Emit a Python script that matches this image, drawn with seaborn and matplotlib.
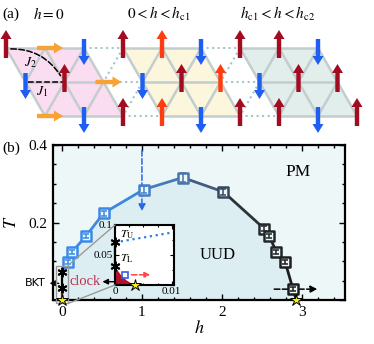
import numpy as np
import pandas as pd
import matplotlib
matplotlib.use("Agg")
import matplotlib.pyplot as plt
import seaborn as sns
from matplotlib.collections import LineCollection
from matplotlib.colors import LinearSegmentedColormap, Normalize
from matplotlib.patches import Polygon, Rectangle, FancyArrowPatch, ConnectionPatch
from matplotlib.ticker import MultipleLocator

# ---------------- data: panel (a) spin configurations ----------------
block_titles = [r"$h=0$", r"$0<h<h_{\rm c1}$", r"$h_{\rm c1}<h<h_{\rm c2}$"]
# u = up, U = canted up (bright), d = down, r = in-plane (right)
spins = [
    ["u r d", "d u r", "r d u"],
    ["u U d", "d u U", "U d u"],
    ["u u d", "d u u", "u d u"],
]

# ---------------- data: panel (b) phase diagram ----------------
h_pts = [0.08, 0.13, 0.30, 0.52, 1.02, 1.51, 2.02, 2.53, 2.59, 2.68, 2.79, 2.89]
T_pts = [0.099, 0.125, 0.165, 0.224, 0.285, 0.316, 0.279, 0.184, 0.166, 0.125, 0.099, 0.028]
T_err = [0.005, 0.005, 0.005, 0.006, 0.008, 0.012, 0.008, 0.006, 0.005, 0.005, 0.005, 0.005]
T_U = 0.071
T_L = 0.031
h_c1 = 0.0035
h_c2 = 2.93

# inset: clock phase boundary and BKT upper line
h_clock = [0.0, 0.001, 0.002, 0.003, 0.0035]
T_clock = [0.031, 0.017, 0.008, 0.002, 0.0]
h_tu = [0.0, 0.0104]
T_tu = [0.071, 0.088]
h_probe, T_probe = 0.0018, 0.017

# ---------------- style ----------------
sns.set_style("ticks")
plt.rcParams["font.family"] = ["Liberation Serif", "DejaVu Serif"]
plt.rcParams["mathtext.fontset"] = "stix"
for k in ["text.color", "axes.labelcolor", "xtick.color", "ytick.color", "axes.edgecolor"]:
    plt.rcParams[k] = "black"

spin_col = {"u": "#a30c20", "U": "#ff3c10", "d": "#1f5ef2", "r": "#f7a232"}
block_fill = ["#fbddf2", "#fbf6dc", "#e1eeeb"]
lat_col = "#c2cdcd"

fig = plt.figure(figsize=(3.74, 3.44), dpi=100)

# ================= panel (a) =================
axa = fig.add_axes([0, 1 - 140 / 344, 1, 140 / 344])
axa.set_xlim(0, 374)
axa.set_ylim(140, 0)
axa.axis("off")

a, dy_row, x0, y0 = 39.0, 34.0, 6.0, 48.0


def site(g, r):
    return x0 + a * g + a / 2 * r, y0 + dy_row * r


for b in range(3):
    corners = [site(3 * b, 0), site(3 * b + 2, 0), site(3 * b + 2, 2), site(3 * b, 2)]
    axa.add_patch(Polygon(corners, closed=True, fc=block_fill[b], ec="none", zorder=0))

for r in range(3):
    for g in range(9):
        x, y = site(g, r)
        nbrs = []
        if g < 8:
            nbrs.append((g + 1, r))
        if r < 2:
            nbrs.append((g, r + 1))
            if g > 0:
                nbrs.append((g - 1, r + 1))
        for g2, r2 in nbrs:
            x2, y2 = site(g2, r2)
            same = (g // 3) == (g2 // 3)
            axa.plot([x, x2], [y, y2], color=lat_col if same else "#a9c4c8",
                     lw=1.8 if same else 1.5, ls="-" if same else ":", zorder=1,
                     solid_capstyle="round")

# exchange couplings
axa.plot([28, 63], [82, 82], ls="--", color="k", lw=1.1, zorder=2)
axa.add_patch(FancyArrowPatch((8, 49), (62, 78), arrowstyle="-", ls="--", lw=1.1,
                              color="k", connectionstyle="arc3,rad=-0.3", zorder=2))
axa.text(30, 63, r"$J_2$", fontsize=10, ha="center", va="center", zorder=3)
axa.text(42, 92, r"$J_1$", fontsize=10, ha="center", va="center", zorder=3)

for b in range(3):
    for r in range(3):
        for c, s in enumerate(spins[b][r].split()):
            x, y = site(3 * b + c, r)
            if s in "uU":
                xs, ys, dx, dy = x, y + 10, 0, -28
            elif s == "d":
                xs, ys, dx, dy = x, y - 9, 0, 26
            else:
                xs, ys, dx, dy = x - 8, y, 26, 0
            axa.arrow(xs, ys, dx, dy, width=4.4, head_width=11, head_length=9,
                      length_includes_head=True, color=spin_col[s], lw=0, zorder=4)

axa.text(2, 14, "(a)", fontsize=11, ha="left", va="center")
for x, t in zip([33, 127, 240], block_titles):
    axa.text(x, 14, t, fontsize=11, ha="left", va="center")

# ================= panel (b) =================
ax = fig.add_axes([53 / 374, 44 / 344, 292 / 374, 155 / 344])
ax.set_facecolor("#eef7f7")
ax.set_xlim(-0.1125, 3.54)
ax.set_ylim(0, 0.4)

cmap = LinearSegmentedColormap.from_list("bk", ["#3a8ceb", "#3f86de", "#4a74a8", "#2c343c", "#181818"])
norm = Normalize(0, 3)

h_line = [0.0] + h_pts + [h_c2]
T_line = [T_U] + T_pts + [0.0]
ax.fill_between(h_line, T_line, 0, color="#dceef1", lw=0, zorder=0)

segs = [[(h_line[i], T_line[i]), (h_line[i + 1], T_line[i + 1])] for i in range(len(h_line) - 1)]
seg_c = [cmap(norm(0.5 * (h_line[i] + h_line[i + 1]))) for i in range(len(h_line) - 1)]
ax.add_collection(LineCollection(segs, colors=seg_c, linewidths=2.0, zorder=2))

for h, T, e in zip(h_pts, T_pts, T_err):
    ax.errorbar(h, T, yerr=e, color=cmap(norm(h)), capsize=2, lw=1.1, capthick=1.1, zorder=5)

df = pd.DataFrame({"h": h_pts, "T": T_pts})
sns.scatterplot(data=df, x="h", y="T", hue="h", palette=cmap, hue_norm=(0, 3),
                marker="s", s=52, legend=False, ax=ax, zorder=4)
pts = ax.collections[-1]
pts.set_edgecolors(pts.get_facecolors())
pts.set_facecolors("#eef7f7")
pts.set_linewidths(1.8)

# h = 0 line: clock (red) and BKT (black)
ax.plot([0, 0], [0, T_L], color="#c0102a", lw=1.6, zorder=3)
ax.plot([0, 0], [T_L, T_U], color="k", lw=1.6, zorder=3)
ax.plot([0, 0], [T_U, T_L], ls="none", marker=(6, 2, 0), ms=7, mew=1.4, color="k", zorder=6)
ax.plot([0, h_c2], [0, 0], ls="none", marker="*", ms=9, mfc="#f2ee20", mec="k", mew=0.7,
        zorder=7, clip_on=False)

box = Rectangle((-0.075, -0.009), 0.15, 0.098, fill=False, ec="#9a9a9a", lw=1.0,
                zorder=6, clip_on=False)
ax.add_patch(box)

# arrows and labels
ax.annotate("", xy=(1.0, 0.222), xytext=(1.0, 0.393),
            arrowprops=dict(arrowstyle="-|>", ls="--", color="#2a66e6", lw=1.1, mutation_scale=10))
ax.annotate("", xy=(3.23, 0.028), xytext=(2.62, 0.028),
            arrowprops=dict(arrowstyle="-|>", ls="--", color="k", lw=1.1, mutation_scale=10), zorder=3)
ax.annotate("", xy=(-0.19, 0.043), xytext=(-0.005, 0.043), annotation_clip=False,
            arrowprops=dict(arrowstyle="-|>", color="k", lw=1.0, mutation_scale=8))
ax.text(-0.2, 0.043, "BKT", family="DejaVu Sans", fontsize=8, ha="right", va="center")
ax.text(2.95, 0.33, "PM", fontsize=12.5, ha="center", va="center")
ax.text(1.95, 0.117, "UUD", fontsize=12, ha="center", va="center")
ax.text(0.48, 0.047, "clock", fontsize=10.5, color="#c0304a", ha="right", va="center", zorder=8)

ax.set_xticks([0, 1, 2, 3])
ax.set_yticks([0, 0.2, 0.4])
ax.set_yticklabels(["", "0.2", "0.4"])
ax.xaxis.set_minor_locator(MultipleLocator(0.2))
ax.yaxis.set_minor_locator(MultipleLocator(0.05))
ax.tick_params(which="both", direction="in", top=True, right=True, labelsize=11, width=1.0)
ax.tick_params(which="major", length=4, pad=4)
ax.tick_params(which="minor", length=2)
ax.set_xlabel(r"$h$", fontsize=13, labelpad=1)
ax.set_ylabel(r"$T$", fontsize=13, labelpad=6)
for sp in ax.spines.values():
    sp.set_linewidth(1.6)

fig.text(2 / 374, 1 - 148 / 344, "(b)", fontsize=11, ha="left", va="center")

# ---------------- inset ----------------
axins = fig.add_axes([115 / 374, 59 / 344, 59 / 374, 60 / 344])
axins.set_facecolor("white")
axins.set_xlim(0, 0.0104)
axins.set_ylim(0, 0.1)
axins.fill(h_clock + [0.0], T_clock + [0.0], color="#b4112a", lw=0, zorder=1)
axins.plot([0, 0], [T_L, T_U], color="k", lw=1.6, zorder=2, clip_on=False)
axins.plot(h_tu, T_tu, ls=":", color="#2f7fe8", lw=1.6, zorder=2)
axins.plot([0, 0], [T_U, T_L], ls="none", marker=(6, 2, 0), ms=7, mew=1.4, color="k",
           zorder=5, clip_on=False)
axins.plot(h_c1, 0, marker="*", ms=9, mfc="#f2ee20", mec="k", mew=0.7, zorder=6, clip_on=False)
axins.plot(h_probe, T_probe, marker="s", ms=5, mfc="none", mec="#3a5ee8", mew=1.2, zorder=4)
axins.annotate("", xy=(0.0067, T_probe), xytext=(0.0024, T_probe),
               arrowprops=dict(arrowstyle="-|>", ls="--", color="#ff4646", lw=1.1, mutation_scale=8),
               annotation_clip=False, zorder=5)
axins.annotate("", xy=(-0.0027, 0.0055), xytext=(0.0006, 0.0055), annotation_clip=False,
               arrowprops=dict(arrowstyle="-|>", color="k", lw=1.0, mutation_scale=8), zorder=6)
axins.text(0.0008, 0.083, r"$T_{\rm U}$", fontsize=8.5, ha="left", va="center")
axins.text(0.0008, 0.043, r"$T_{\rm L}$", fontsize=8.5, ha="left", va="center")

axins.set_xticks([0, 0.01])
axins.set_xticklabels(["0", "0.01"])
axins.set_yticks([0, 0.05, 0.1])
axins.set_yticklabels(["", "0.05", "0.1"])
axins.xaxis.set_minor_locator(MultipleLocator(0.0025))
axins.yaxis.set_minor_locator(MultipleLocator(0.025))
axins.tick_params(which="both", direction="in", top=True, right=True, labelsize=8, width=0.8, pad=1.5)
axins.tick_params(which="major", length=3)
axins.tick_params(which="minor", length=1.5)
for sp in axins.spines.values():
    sp.set_linewidth(1.5)

for xyA, xyB in [((0.075, 0.089), (0, 0.1)), ((0.075, -0.009), (0, 0))]:
    con = ConnectionPatch(xyA=xyA, coordsA=ax.transData, xyB=xyB, coordsB=axins.transData,
                          color="#9a9a9a", lw=1.0, zorder=3)
    fig.add_artist(con)

fig.savefig("out.png", dpi=100)
